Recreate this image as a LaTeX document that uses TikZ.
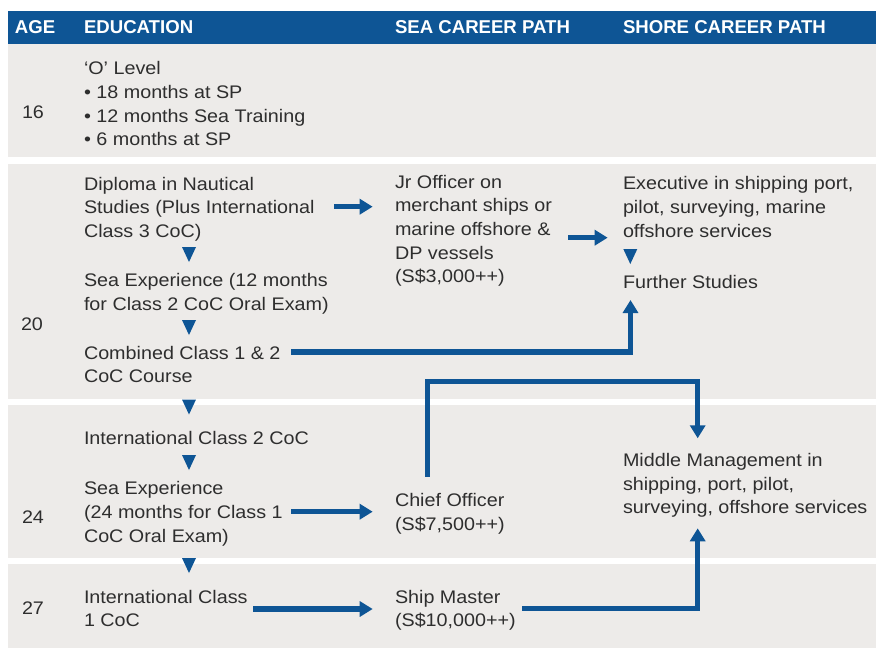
\documentclass[tikz,border=0pt]{standalone}
\usepackage{fontspec}
\setmainfont{Liberation Sans}[FakeStretch=1.085]
\newfontfamily\hdfont{Liberation Sans}
\usetikzlibrary{arrows.meta}
\definecolor{mblue}{HTML}{0E5595}
\definecolor{mgray}{HTML}{EDEBE9}
\definecolor{mtext}{HTML}{2E2E2E}
\begin{document}
\begin{tikzpicture}[x=1pt,y=-1pt,
  txt/.style={anchor=north west, inner sep=0pt, outer sep=0pt, align=left, text=mtext,
    font=\fontsize{18.2}{23.7}\selectfont},
  hd/.style={anchor=north west, inner sep=0pt, outer sep=0pt, text=white,
    font=\hdfont\bfseries\fontsize{18.6}{22}\selectfont},
  conn/.style={draw=mblue, line width=5.5pt, -{Triangle[width=15pt,length=13pt]}},
  band/.style={fill=mgray},
  dtri/.pic={\fill[mblue] (-7,0) -- (7,0) -- (0,15) -- cycle;}
]
\useasboundingbox (0,0) rectangle (876,648);
% bands
\fill[mblue] (8,11) rectangle (876,43.5);
\fill[band] (8,43.5) rectangle (876,157);
\fill[band] (8,164) rectangle (876,399);
\fill[band] (8,405) rectangle (876,558);
\fill[band] (8,564) rectangle (876,648);
% header
\node[hd] (hAge) at (15,21) {AGE};
\node[hd] (hEdu) at (84,21) {EDUCATION};
\node[hd] (hSea) at (395,21) {SEA CAREER PATH};
\node[hd] (hShore) at (623,21) {SHORE CAREER PATH};
% ages
\node[txt] (a16) at (22,106) {16};
\node[txt] (a20) at (21,317.7) {20};
\node[txt] (a24) at (22,510.7) {24};
\node[txt] (a27) at (22,601.7) {27};
% education
\node[txt] (olevel) at (84,61.7) {‘O’ Level\\• 18 months at SP\\• 12 months Sea Training\\• 6 months at SP};
\node[txt] (dip) at (84,177) {Diploma in Nautical\\Studies (Plus International\\Class 3 CoC)};
\node[txt] (sea1) at (84,273.3) {Sea Experience (12 months\\for Class 2 CoC Oral Exam)};
\node[txt] (comb) at (84,346) {Combined Class 1 \& 2\\CoC Course};
\node[txt] (ic2) at (84,431.7) {International Class 2 CoC};
\node[txt] (sea2) at (84,481.7) {Sea Experience\\(24 months for Class 1\\CoC Oral Exam)};
\node[txt] (ic1) at (84,590) {International Class\\1 CoC};
% sea path
\node[txt] (jr) at (395,175) {Jr Officer on\\merchant ships or\\marine offshore \&\\DP vessels\\(S\$3,000++)};
\node[txt] (chief) at (395,493.3) {Chief Officer\\(S\$7,500++)};
\node[txt] (master) at (395,590) {Ship Master\\(S\$10,000++)};
% shore path
\node[txt] (exec) at (623,176.7) {Executive in shipping port,\\pilot, surveying, marine\\offshore services};
\node[txt] (further) at (623,275) {Further Studies};
\node[txt] (mid) at (623,453.3) {Middle Management in\\shipping, port, pilot,\\surveying, offshore services};
% small down triangles
\pic at (189,247) {dtri};
\pic at (189,320) {dtri};
\pic at (189,399.5) {dtri};
\pic at (189,455) {dtri};
\pic at (189,558) {dtri};
\pic at (630.3,249) {dtri};
% connector end points
\coordinate (s1) at (334,206.7);
\coordinate (s2) at (568.3,237.7);
\coordinate (s3) at (291,352);
\coordinate (e3) at (630.5,300);
\coordinate (s4) at (427.3,476.7);
\coordinate (k4) at (697.7,381.7);
\coordinate (e4) at (697.7,438.3);
\coordinate (s5) at (291,511.7);
\coordinate (s6) at (253.3,609);
\coordinate (s7) at (522.3,608.3);
\coordinate (e7) at (697.7,528.3);
% connectors
\draw[conn, shorten >=22.3pt] (s1) -- (s1 -| jr.west);
\draw[conn, shorten >=15.3pt] (s2) -- (s2 -| exec.west);
\draw[conn] (s3) -| (e3);
\draw[conn] (s4) |- (k4) -- (e4);
\draw[conn, shorten >=22.3pt] (s5) -- (s5 -| chief.west);
\draw[conn, shorten >=22.3pt] (s6) -- (s6 -| master.west);
\draw[conn] (s7) -| (e7);
\end{tikzpicture}
\end{document}
